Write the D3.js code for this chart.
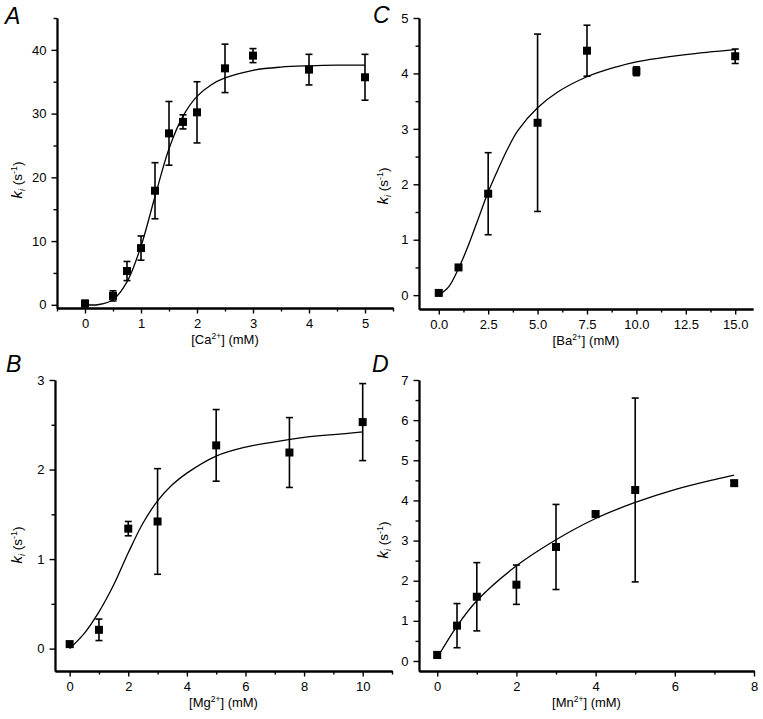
<!DOCTYPE html>
<html><head><meta charset="utf-8">
<script src="https://cdn.jsdelivr.net/npm/d3@7"></script>
<style>
body{margin:0;background:#fff}
text{font-family:"Liberation Sans",Arial,Helvetica,sans-serif;fill:#000}
</style>
</head><body>
<svg id="chart" width="763" height="719"></svg>
<script>
// ---------- Panel A: Ca2+ ----------
const caX   = [0, 0.5, 0.75, 1, 1.25, 1.5, 1.75, 2, 2.5, 3, 4, 5];
const caY   = [0.2, 1.4, 5.3, 8.9, 17.9, 26.9, 28.7, 30.2, 37.1, 39.1, 36.9, 35.7];
const caErr = [0.5, 0.8, 1.5, 1.9, 4.4, 5.0, 1.1, 4.8, 3.8, 1.1, 2.4, 3.6];
const caFitX = [0, 0.25, 0.5, 0.75, 1.0, 1.25, 1.5, 1.75, 2.0, 2.25, 2.5, 3.0, 3.5, 4.0, 4.5, 5.0];
const caFitY = [0, 0.05, 0.8, 3.6, 9.2, 17.0, 24.5, 29.6, 32.7, 34.5, 35.6, 36.8, 37.3, 37.5, 37.6, 37.6];
const caXTicks = [0, 1, 2, 3, 4, 5];
const caYTicks = [0, 10, 20, 30, 40];

// ---------- Panel B: Mg2+ ----------
const mgX   = [0, 1, 2, 3, 5, 7.5, 10];
const mgY   = [0.05, 0.21, 1.34, 1.42, 2.27, 2.19, 2.53];
const mgErr = [0.03, 0.12, 0.08, 0.59, 0.40, 0.39, 0.43];
const mgFitX = [0, 0.5, 1, 1.5, 2, 2.5, 3, 3.5, 4, 5, 6, 7, 8, 9, 10];
const mgFitY = [0, 0.17, 0.41, 0.71, 1.07, 1.40, 1.65, 1.83, 1.96, 2.15, 2.25, 2.31, 2.36, 2.39, 2.42];
const mgXTicks = [0, 2, 4, 6, 8, 10];
const mgYTicks = [0, 1, 2, 3];

// ---------- Panel C: Ba2+ ----------
const baX   = [0, 1, 2.5, 5, 7.5, 10, 15];
const baY   = [0.04, 0.50, 1.83, 3.11, 4.41, 4.04, 4.31];
const baErr = [0.03, 0.04, 0.74, 1.60, 0.46, 0.08, 0.13];
const baFitX = [0, 0.5, 1, 1.5, 2, 2.5, 3, 3.5, 4, 5, 6, 7.5, 9, 10, 12.5, 15];
const baFitY = [0, 0.15, 0.48, 0.90, 1.38, 1.86, 2.27, 2.65, 2.97, 3.38, 3.66, 3.94, 4.12, 4.21, 4.34, 4.43];
const baXTicks = [0, 2.5, 5, 7.5, 10, 12.5, 15];
const baYTicks = [0, 1, 2, 3, 4, 5];

// ---------- Panel D: Mn2+ ----------
const mnX   = [0, 0.5, 1, 2, 3, 4, 5, 7.5];
const mnY   = [0.15, 0.88, 1.60, 1.90, 2.84, 3.66, 4.26, 4.43];
const mnErr = [0.08, 0.55, 0.85, 0.49, 1.06, 0.07, 2.29, 0.06];
const mnFitX = [0, 0.5, 1, 2, 3, 4, 5, 6, 7, 7.5];
const mnFitY = [0.08, 0.87, 1.50, 2.37, 3.02, 3.55, 3.95, 4.27, 4.52, 4.63];
const mnXTicks = [0, 2, 4, 6, 8];
const mnYTicks = [0, 1, 2, 3, 4, 5, 6, 7];

const fInt = d3.format("d"), fOne = d3.format(".1f");
const panels = [
  {letter:"A", ion:"Ca", x:caX, y:caY, err:caErr, fx:caFitX, fy:caFitY, xt:caXTicks, yt:caYTicks,
   xMinorStep:0.5, yMinorStep:5, xd:[-0.5,5.5], yd:[-0.5,45], xr:[57,393], yr:[308,18],
   xfmt:fInt, yfmt:fInt, letterPos:[5,24], ylab:[22,180]},
  {letter:"C", ion:"Ba", x:baX, y:baY, err:baErr, fx:baFitX, fy:baFitY, xt:baXTicks, yt:baYTicks,
   xMinorStep:1.25, yMinorStep:0.5, xd:[-1,15.9], yd:[-0.25,5], xr:[419,753], yr:[309,18],
   xfmt:fOne, yfmt:fInt, letterPos:[373,23], ylab:[388,186]},
  {letter:"B", ion:"Mg", x:mgX, y:mgY, err:mgErr, fx:mgFitX, fy:mgFitY, xt:mgXTicks, yt:mgYTicks,
   xMinorStep:1, yMinorStep:0.5, xd:[-0.5,11], yd:[-0.25,3], xr:[55,392], yr:[671,380],
   xfmt:fInt, yfmt:fInt, letterPos:[6,372], ylab:[22,545]},
  {letter:"D", ion:"Mn", x:mnX, y:mnY, err:mnErr, fx:mnFitX, fy:mnFitY, xt:mnXTicks, yt:mnYTicks,
   xMinorStep:1, yMinorStep:0.5, xd:[-0.46,8], yd:[-0.25,7], xr:[419,754], yr:[671,380],
   xfmt:fInt, yfmt:fInt, letterPos:[372,372], ylab:[388,540]}
];

const svg = d3.select("#chart");

function range(a, b, s){ const out=[]; for(let v=Math.ceil(a/s)*s; v<=b+1e-9; v+=s) out.push(+v.toFixed(6)); return out; }

panels.forEach(p => {
  const xs = d3.scaleLinear().domain(p.xd).range(p.xr);
  const ys = d3.scaleLinear().domain(p.yd).range(p.yr);
  const g = svg.append("g");

  const xMinor = range(p.xd[0], p.xd[1], p.xMinorStep).filter(v => !p.xt.includes(v));
  const yMinor = range(p.yd[0], p.yd[1], p.yMinorStep).filter(v => !p.yt.includes(v));

  const xAxisMinor = d3.axisBottom(xs).tickValues(xMinor).tickSize(3.5).tickSizeOuter(0).tickFormat("");
  const yAxisMinor = d3.axisLeft(ys).tickValues(yMinor).tickSize(3.5).tickSizeOuter(0).tickFormat("");
  const xAxis = d3.axisBottom(xs).tickValues(p.xt).tickSize(5.5).tickSizeOuter(0).tickPadding(5).tickFormat(p.xfmt);
  const yAxis = d3.axisLeft(ys).tickValues(p.yt).tickSize(5.5).tickSizeOuter(0).tickPadding(5).tickFormat(p.yfmt);

  const y0 = p.yr[0], x0 = p.xr[0];
  [xAxisMinor, xAxis].forEach(ax => {
    const a = g.append("g").attr("transform", `translate(0,${y0})`).call(ax);
    a.selectAll("text").attr("font-size", 13).attr("font-family", "Liberation Sans, Arial, sans-serif").attr("fill","#000");
    a.selectAll("line").attr("stroke","#000").attr("stroke-width",1.4);
    a.select(".domain").attr("stroke","#000").attr("stroke-width",1.8);
  });
  [yAxisMinor, yAxis].forEach(ax => {
    const a = g.append("g").attr("transform", `translate(${x0},0)`).call(ax);
    a.selectAll("text").attr("font-size", 13).attr("font-family", "Liberation Sans, Arial, sans-serif").attr("fill","#000");
    a.selectAll("line").attr("stroke","#000").attr("stroke-width",1.4);
    a.select(".domain").attr("stroke","#000").attr("stroke-width",1.8);
  });

  // fitted curve (sampled from the figure)
  const fit = p.fx.map((v,i)=>[v, p.fy[i]]);
  g.append("path").datum(fit)
    .attr("fill","none").attr("stroke","#000").attr("stroke-width",1.3)
    .attr("d", d3.line().x(d=>xs(d[0])).y(d=>ys(d[1])).curve(d3.curveCatmullRom.alpha(0.5)));

  // error bars
  const pts = p.x.map((v,i)=>({x:v, y:p.y[i], e:p.err[i]}));
  const cap = 3.5;
  const eb = g.append("g").attr("stroke","#000").attr("stroke-width",1.6);
  pts.forEach(d => {
    const cx = xs(d.x), top = ys(d.y + d.e), bot = ys(d.y - d.e);
    eb.append("line").attr("x1",cx).attr("x2",cx).attr("y1",top).attr("y2",bot);
    eb.append("line").attr("x1",cx-cap).attr("x2",cx+cap).attr("y1",top).attr("y2",top);
    eb.append("line").attr("x1",cx-cap).attr("x2",cx+cap).attr("y1",bot).attr("y2",bot);
  });
  const s = 8;
  g.append("g").selectAll("rect").data(pts).join("rect")
    .attr("x", d=>xs(d.x)-s/2).attr("y", d=>ys(d.y)-s/2)
    .attr("width", s).attr("height", s).attr("fill","#000");

  // panel letter
  svg.append("text").attr("x", p.letterPos[0]).attr("y", p.letterPos[1])
    .attr("font-size", 23).attr("font-style","italic").text(p.letter);

  // x-axis label
  const xl = svg.append("text").attr("x", (p.xr[0]+p.xr[1])/2).attr("y", y0+36)
    .attr("text-anchor","middle").attr("font-size",13);
  xl.append("tspan").text("[" + p.ion);
  xl.append("tspan").attr("dy",-5).attr("font-size",8.5).text("2+");
  xl.append("tspan").attr("dy",5).text("] (mM)");

  // y-axis label
  const yl = svg.append("text").attr("transform", `translate(${p.ylab[0]},${p.ylab[1]}) rotate(-90)`)
    .attr("text-anchor","middle").attr("font-size",13.5);
  yl.append("tspan").attr("font-style","italic").attr("font-size",15).text("k");
  yl.append("tspan").attr("font-style","italic").attr("font-size",9).attr("dy",3).text("i");
  yl.append("tspan").attr("dy",-3).text(" (s");
  yl.append("tspan").attr("dy",-5).attr("font-size",9).text("-1");
  yl.append("tspan").attr("dy",5).text(")");
});
</script>
</body></html>
